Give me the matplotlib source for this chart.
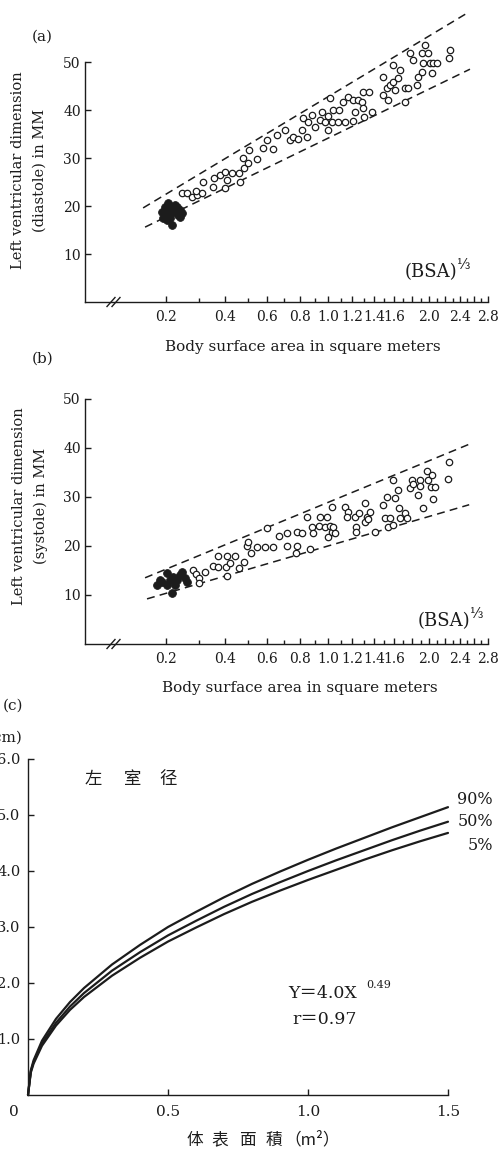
import numpy as np
import matplotlib
matplotlib.use("Agg")
import matplotlib.pyplot as plt
from matplotlib.lines import Line2D

W, H = 502, 1150

# ---------------- (a) diastole: x is (BSA)^(1/3), y in mm ----------------
a_open_x = [0.626, 0.639, 0.652, 0.664, 0.677, 0.662, 0.680, 0.705, 0.708, 0.723,
            0.736, 0.741, 0.736, 0.754, 0.775, 0.772, 0.785, 0.795, 0.782, 0.798,
            0.818, 0.834, 0.844, 0.859, 0.870, 0.890, 0.903, 0.911, 0.923, 0.934,
            0.936, 0.947, 0.949, 0.959, 0.967, 0.980, 0.985, 0.993, 1.000, 1.000,
            1.011, 1.013, 1.006, 1.026, 1.029, 1.044, 1.039, 1.052, 1.064, 1.064,
            1.070, 1.077, 1.088, 1.090, 1.093, 1.090, 1.106, 1.113, 1.141, 1.141,
            1.152, 1.159, 1.167, 1.154, 1.167, 1.172, 1.180, 1.185, 1.198, 1.198,
            1.206, 1.211, 1.218, 1.229, 1.231, 1.241, 1.241, 1.244, 1.249, 1.257,
            1.262, 1.267, 1.270, 1.280, 1.313, 1.311]
a_open_y = [22.7, 22.7, 21.9, 22.3, 22.7, 23.1, 25.0, 24.0, 25.8, 26.5,
            27.1, 25.4, 23.8, 26.9, 25.0, 26.9, 27.9, 29.0, 30.0, 31.7,
            29.8, 32.1, 33.8, 31.9, 34.8, 35.8, 33.8, 34.4, 34.0, 35.8,
            38.3, 34.4, 37.5, 39.0, 36.5, 37.9, 39.6, 37.5, 38.8, 35.8,
            37.5, 40.0, 42.5, 37.5, 40.0, 37.5, 41.7, 42.7, 42.1, 37.7,
            39.6, 42.1, 41.7, 40.4, 38.5, 43.8, 43.8, 39.6, 46.9, 43.1,
            44.6, 45.2, 49.4, 42.1, 45.8, 44.2, 46.7, 48.3, 41.7, 44.6,
            44.6, 51.9, 50.4, 45.2, 46.9, 51.9, 47.9, 49.8, 53.5, 51.9,
            49.8, 47.7, 49.8, 49.8, 52.5, 50.8]
a_fill_x = [0.575, 0.582, 0.588, 0.595, 0.603, 0.613, 0.621, 0.626, 0.616, 0.577,
            0.595, 0.600, 0.608, 0.590, 0.588, 0.621]
a_fill_y = [18.8, 19.8, 18.5, 19.6, 18.8, 19.8, 19.2, 18.5, 18.1, 17.5,
            17.5, 16.0, 20.2, 20.6, 17.1, 17.7]
a_upper_x, a_upper_y = [0.526, 1.357], [19.6, 60.2]
a_lower_x, a_lower_y = [0.531, 1.364], [15.6, 48.5]

# ---------------- (b) systole ----------------
b_open_x = [0.654, 0.662, 0.670, 0.670, 0.685, 0.706, 0.718, 0.718, 0.739, 0.741,
            0.749, 0.741, 0.762, 0.772, 0.785, 0.793, 0.795, 0.803, 0.818, 0.839,
            0.844, 0.859, 0.875, 0.895, 0.895, 0.921, 0.918, 0.921, 0.934, 0.954,
            0.947, 0.959, 0.962, 0.980, 0.977, 0.993, 0.998, 1.006, 1.000, 1.011,
            1.013, 1.018, 1.011, 1.044, 1.052, 1.049, 1.070, 1.072, 1.072, 1.080,
            1.095, 1.095, 1.100, 1.108, 1.103, 1.121, 1.141, 1.147, 1.152, 1.159,
            1.154, 1.167, 1.172, 1.167, 1.180, 1.182, 1.185, 1.198, 1.203, 1.211,
            1.216, 1.218, 1.231, 1.236, 1.236, 1.244, 1.254, 1.257, 1.264, 1.267,
            1.270, 1.275, 1.311, 1.308]
b_open_y = [15.1, 14.3, 13.5, 12.4, 14.7, 15.9, 18.0, 15.7, 15.7, 13.9,
            16.5, 18.0, 18.0, 15.5, 16.7, 20.0, 20.8, 18.6, 19.8, 19.8,
            23.7, 19.8, 22.0, 22.7, 20.0, 20.0, 18.6, 22.9, 22.7, 19.4,
            25.9, 23.9, 22.7, 25.9, 24.1, 23.9, 25.9, 24.1, 21.8, 22.9,
            23.9, 22.7, 28.0, 28.0, 26.9, 25.9, 25.9, 23.9, 22.9, 26.7,
            28.8, 24.9, 25.9, 26.9, 25.5, 22.9, 28.4, 25.7, 30.0, 25.7,
            23.9, 33.5, 29.8, 24.3, 31.4, 27.8, 25.7, 26.7, 25.7, 31.8,
            33.5, 32.7, 30.4, 33.5, 32.2, 27.8, 35.3, 33.5, 32.0, 34.5,
            29.6, 32.0, 37.1, 33.7]
b_fill_x = [0.562, 0.575, 0.588, 0.588, 0.595, 0.603, 0.613, 0.621, 0.634, 0.600,
            0.626, 0.608, 0.639, 0.570]
b_fill_y = [12.0, 12.7, 14.5, 12.0, 13.1, 13.7, 13.1, 14.1, 13.5, 10.4,
            14.7, 12.0, 12.7, 13.1]
b_upper_x, b_upper_y = [0.531, 1.370], [13.5, 41.0]
b_lower_x, b_lower_y = [0.536, 1.362], [9.2, 28.4]

# BSA tick marks (placed on the cube-root axis)
bsa_major = [0.2, 0.4, 0.6, 0.8, 1.0, 1.2, 1.4, 1.6, 1.8, 2.0, 2.2, 2.4, 2.6, 2.8]
bsa_minor = [0.3, 0.5, 0.7, 0.9, 1.1, 1.3, 1.5, 1.7, 1.9, 2.1, 2.3, 2.5, 2.7]
bsa_labelled = ["0.2", "0.4", "0.6", "0.8", "1.0", "1.2", "1.4", "1.6", "2.0", "2.4", "2.8"]
mm_ticks = [10, 20, 30, 40, 50]

# ---------------- (c) percentile curves of LV diameter ----------------
c_x = [0.0, 0.01, 0.02, 0.05, 0.1, 0.15, 0.2, 0.3, 0.4, 0.5, 0.6, 0.7, 0.8, 0.9,
       1.0, 1.1, 1.2, 1.3, 1.4, 1.5]
c_p90 = [0.0, 0.44, 0.62, 0.97, 1.36, 1.66, 1.91, 2.33, 2.68, 3.00, 3.27, 3.53,
         3.77, 3.99, 4.20, 4.40, 4.59, 4.78, 4.96, 5.14]
c_p50 = [0.0, 0.42, 0.59, 0.92, 1.29, 1.58, 1.82, 2.22, 2.55, 2.85, 3.11, 3.36,
         3.59, 3.80, 4.00, 4.19, 4.37, 4.55, 4.72, 4.88]
c_p5 = [0.0, 0.40, 0.56, 0.88, 1.24, 1.52, 1.75, 2.13, 2.45, 2.74, 2.99, 3.23,
        3.45, 3.65, 3.84, 4.02, 4.20, 4.37, 4.53, 4.68]
c_labels = ["90%", "50%", "5%"]
c_xticks = [0.5, 1.0, 1.5]
c_yticks = [1.0, 2.0, 3.0, 4.0, 5.0, 6.0]

ink = "#1c1c1c"
SERIF = ["DejaVu Serif", "DejaVu Sans"]
CJK = ["Noto Sans CJK SC", "DejaVu Sans"]
plt.rcParams["font.family"] = SERIF
plt.rcParams["text.color"] = ink

fig = plt.figure(figsize=(W / 100, H / 100), dpi=100)
fig.patch.set_facecolor("white")


def box(l, t, r, b):
    return [l / W, 1 - b / H, (r - l) / W, (b - t) / H]


def fx(px):
    return px / W


def fy(py):
    return 1 - py / H


def style_axes(ax):
    for s in ("top", "right"):
        ax.spines[s].set_visible(False)
    for s in ("left", "bottom"):
        ax.spines[s].set_color(ink)
        ax.spines[s].set_linewidth(1.0)
    ax.set_facecolor("none")


def scatter_panel(ax, ox, oy, fxs, fys, ux, uy, lx, ly, ytop):
    style_axes(ax)
    ax.plot(ux, uy, color=ink, lw=1.1, ls=(0, (5.2, 3.4)), clip_on=False)
    ax.plot(lx, ly, color=ink, lw=1.1, ls=(0, (5.2, 3.4)), clip_on=False)
    ax.plot(ox, oy, "o", ms=4.6, mfc="white", mec=ink, mew=0.9, ls="none",
            clip_on=False)
    ax.plot(fxs, fys, "o", ms=5.6, mfc=ink, mec=ink, mew=0.6, ls="none",
            clip_on=False)
    ax.set_xlim(0.377, np.cbrt(2.8))
    ax.set_ylim(0, ytop)
    ax.spines["left"].set_bounds(0, 50)
    ax.set_yticks(mm_ticks)
    ax.set_yticklabels([str(v) for v in mm_ticks], fontsize=10)
    ax.set_xticks(np.cbrt(bsa_major))
    ax.set_xticklabels([f"{v:.1f}" if f"{v:.1f}" in bsa_labelled else ""
                        for v in bsa_major], fontsize=10)
    ax.set_xticks(np.cbrt(bsa_minor), minor=True)
    ax.tick_params(axis="y", direction="in", length=4.5, width=1.0, color=ink,
                   pad=3, labelcolor=ink)
    ax.tick_params(axis="x", which="major", direction="in", length=4.5,
                   width=1.0, color=ink, pad=6, labelcolor=ink)
    ax.tick_params(axis="x", which="minor", direction="in", length=2.6,
                   width=1.0, color=ink)


def axis_break(x0, y0):
    for dx in (0, 5):
        fig.add_artist(Line2D([fx(x0 - 4 + dx), fx(x0 + 4 + dx)],
                              [fy(y0 + 4.5), fy(y0 - 4.5)],
                              color=ink, lw=1.0))


# ---- panel (a)
ax1 = fig.add_axes(box(85, 14, 487.7, 302))
scatter_panel(ax1, a_open_x, a_open_y, a_fill_x, a_fill_y,
              a_upper_x, a_upper_y, a_lower_x, a_lower_y, 60)
axis_break(111, 302)
fig.text(fx(42), fy(37), "(a)", fontsize=11, ha="center", va="center")
fig.text(fx(29), fy(170), "Left ventricular dimension\n(diastole) in MM",
         rotation=90, fontsize=10.5, ha="center", va="center",
         multialignment="center", linespacing=1.65)
fig.text(fx(303), fy(347), "Body surface area in square meters",
         fontsize=11, ha="center", va="center")
fig.text(fx(405), fy(272), "(BSA)", fontsize=13, ha="left", va="center")
fig.text(fx(457), fy(265), "⅓", fontsize=10, ha="left", va="center")

# ---- panel (b)
ax2 = fig.add_axes(box(85, 389, 487.7, 644))
scatter_panel(ax2, b_open_x, b_open_y, b_fill_x, b_fill_y,
              b_upper_x, b_upper_y, b_lower_x, b_lower_y, 52)
axis_break(111, 644)
fig.text(fx(43), fy(359), "(b)", fontsize=11, ha="center", va="center")
fig.text(fx(30), fy(506), "Left ventricular dimension\n(systole) in MM",
         rotation=90, fontsize=10.5, ha="center", va="center",
         multialignment="center", linespacing=1.7)
fig.text(fx(300), fy(688), "Body surface area in square meters",
         fontsize=11, ha="center", va="center")
fig.text(fx(418), fy(621), "(BSA)", fontsize=13, ha="left", va="center")
fig.text(fx(470), fy(614), "⅓", fontsize=10, ha="left", va="center")

# ---- panel (c)
ax3 = fig.add_axes(box(28, 759, 448, 1095))
style_axes(ax3)
for ys in (c_p90, c_p50, c_p5):
    ax3.plot(c_x, ys, color=ink, lw=1.6, solid_capstyle="round", clip_on=False)
ax3.set_xlim(0, 1.5)
ax3.set_ylim(0, 6)
ax3.set_xticks(c_xticks)
ax3.set_xticklabels([f"{v:.1f}" for v in c_xticks], fontsize=11)
ax3.set_yticks(c_yticks)
ax3.set_yticklabels([f"{v:.1f}" for v in c_yticks], fontsize=10.5)
ax3.tick_params(axis="both", direction="in", length=4.5, width=1.0, color=ink,
                labelcolor=ink)
ax3.tick_params(axis="x", pad=7.5)
ax3.tick_params(axis="y", pad=5.5)
for lab, ys, py in zip(c_labels, (c_p90, c_p50, c_p5), (799, 822, 845)):
    fig.text(fx(493), fy(py), lab, fontsize=11.5, ha="right", va="center")
fig.text(fx(14), fy(1112), "0", fontsize=11, ha="center", va="center")
fig.text(fx(13), fy(706), "(c)", fontsize=11, ha="center", va="center")
fig.text(fx(23), fy(738), "(cm)", fontsize=11, ha="right", va="center")
for ch, px in zip("左室径", (93, 133, 168)):
    fig.text(fx(px), fy(779), ch, family=CJK, fontsize=12.5, ha="center",
             va="center")
for ch, px in zip("体表面積", (195, 220, 247, 274)):
    fig.text(fx(px), fy(1140), ch, family=CJK, fontsize=12, ha="center",
             va="center")
fig.text(fx(284), fy(1140), "（m²）", family=CJK, fontsize=12, ha="left",
         va="center")
fig.text(fx(288), fy(993), "Y＝4.0X", family=["DejaVu Serif", "Noto Sans CJK SC"],
         fontsize=12.5, ha="left", va="center")
fig.text(fx(366), fy(985), "0.49", fontsize=8, ha="left", va="center")
fig.text(fx(292), fy(1020), "r＝0.97", family=["DejaVu Serif", "Noto Sans CJK SC"],
         fontsize=12.5, ha="left", va="center")

fig.savefig("out.png", dpi=100, facecolor="white")
